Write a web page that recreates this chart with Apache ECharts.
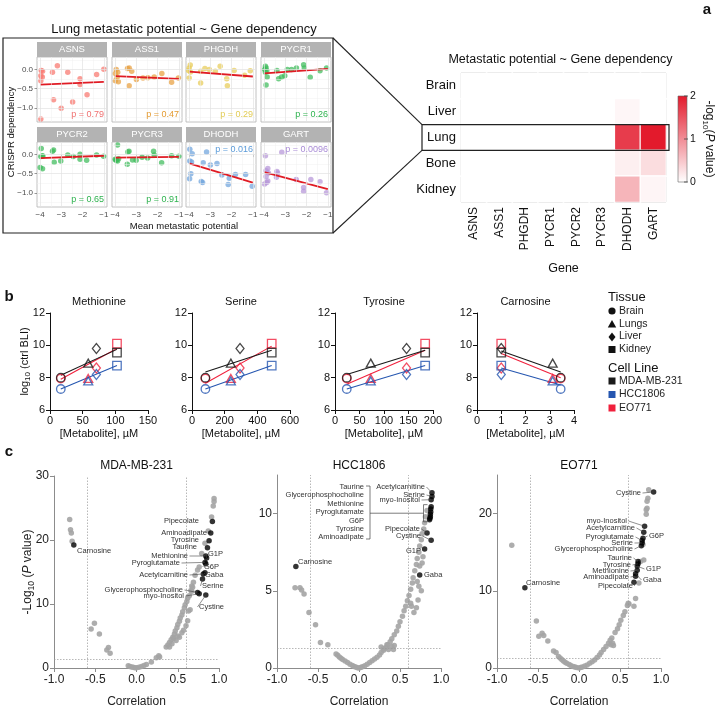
<!DOCTYPE html>
<html><head><meta charset="utf-8">
<script src="https://cdn.jsdelivr.net/npm/echarts@6/dist/echarts.min.js"></script>
<style>html,body{margin:0;padding:0;background:#fff}#c{width:720px;height:706px}</style>
</head><body><div id="c"></div>
<script>
const FONT = '"Liberation Sans", Arial, Helvetica, sans-serif';
const minus = s => String(s).replace('-', '\u2212');

// ---------------- Panel a: facets ----------------
const facetGenes = ['ASNS','ASS1','PHGDH','PYCR1','PYCR2','PYCR3','DHODH','GART'];
const ptsASNS = [[-3.95,-0.02],[-3.89,-0.04],[-3.97,-0.16],[-3.9,-0.19],[-3.97,-0.29],[-3.19,0.1],[-3.42,-0.07],[-2.7,-0.07],[-2.12,-0.24],[-2.12,-0.39],[-1.34,-0.13],[-1.0,0.01],[-3.37,-0.79],[-2.47,-0.85],[-1.79,-0.66],[-3.01,-1.01],[-3.97,-1.29]];
const ptsASS1 = [[-3.95,0.0],[-3.88,-0.07],[-3.99,-0.1],[-3.91,-0.2],[-3.99,-0.29],[-3.85,-0.32],[-3.42,0.03],[-3.34,0.04],[-3.22,-0.04],[-3.0,-0.26],[-2.69,-0.22],[-2.46,-0.21],[-2.16,-0.19],[-1.8,-0.1],[-1.34,-0.33],[-1.02,-0.22],[-3.34,-0.42]];
const ptsPHGDH = [[-3.95,0.12],[-4.0,0.04],[-4.03,-0.02],[-3.94,-0.06],[-4.0,-0.22],[-3.46,-0.35],[-3.46,-0.04],[-3.26,0.03],[-3.05,0.0],[-2.77,-0.04],[-2.54,0.09],[-2.23,-0.24],[-2.2,-0.42],[-1.88,-0.02],[-1.39,-0.15],[-1.12,-0.03]];
const ptsPYCR1 = [[-3.94,0.09],[-3.91,0.04],[-3.98,0.0],[-3.88,-0.03],[-3.94,-0.07],[-3.86,-0.19],[-3.91,-0.4],[-3.4,-0.02],[-3.32,-0.24],[-3.18,-0.19],[-3.03,-0.16],[-2.91,0.0],[-2.71,0.0],[-2.48,0.04],[-2.14,0.13],[-2.11,0.04],[-1.83,-0.2],[-1.37,-0.03],[-1.06,0.04]];
const ptsPYCR2 = [[-3.95,0.16],[-3.89,-0.03],[-3.97,-0.05],[-3.88,-0.04],[-4.0,-0.34],[-3.89,-0.37],[-3.42,0.09],[-3.37,0.12],[-3.34,-0.2],[-3.03,-0.17],[-2.7,-0.01],[-2.44,-0.05],[-2.12,0.01],[-2.12,-0.12],[-1.81,-0.15],[-1.34,-0.01],[-1.01,-0.04]];
const ptsPYCR3 = [[-3.89,0.25],[-4.0,-0.12],[-3.94,-0.15],[-3.89,-0.17],[-3.84,-0.11],[-3.97,-0.14],[-3.35,0.09],[-3.4,0.07],[-3.43,-0.25],[-3.18,-0.14],[-3.01,-0.15],[-2.73,-0.07],[-2.47,-0.09],[-2.19,0.09],[-2.16,-0.01],[-1.81,-0.21],[-1.34,-0.03],[-1.0,-0.04]];
const ptsDHODH = [[-3.97,0.14],[-3.86,0.02],[-3.97,-0.17],[-3.89,-0.19],[-3.92,-0.5],[-3.98,-0.63],[-3.18,0.07],[-3.34,-0.21],[-3.0,-0.27],[-2.69,-0.23],[-3.43,-0.7],[-3.37,-0.73],[-2.46,-0.53],[-2.11,-0.62],[-2.16,-0.78],[-1.82,-0.52],[-1.34,-0.52],[-1.03,-0.83]];
const ptsGART = [[-3.94,-0.03],[-3.83,-0.36],[-3.91,-0.42],[-3.8,-0.48],[-3.91,-0.57],[-3.83,-0.69],[-3.98,-0.77],[-3.88,-0.73],[-3.4,-0.44],[-3.37,-0.48],[-3.17,0.06],[-3.42,-0.59],[-2.49,-0.65],[-2.14,-0.86],[-2.14,-0.96],[-1.8,-0.65],[-1.37,-0.71],[-1.06,-1.0]];
const facetPoints = [ptsASNS, ptsASS1, ptsPHGDH, ptsPYCR1, ptsPYCR2, ptsPYCR3, ptsDHODH, ptsGART];
const fitX = [-4, -1];
const fitStartY = [-0.39, -0.17, -0.05, -0.10, -0.09, -0.08, -0.23, -0.46];
const fitEndY = [-0.32, -0.24, -0.18, 0.02, -0.03, -0.06, -0.73, -0.90];
const facetPText = ['p = 0.79','p = 0.47','p = 0.29','p = 0.26','p = 0.65','p = 0.91','p = 0.016','p = 0.0096'];

// ---------------- Panel a: heatmap ----------------
const heatTissues = ['Brain','Liver','Lung','Bone','Kidney'];
const heatGenes = ['ASNS','ASS1','PHGDH','PYCR1','PYCR2','PYCR3','DHODH','GART'];
const heatBrain  = [0,0,0,0,0,0,0,0];
const heatLiver  = [0,0,0,0,0,0,0.08,0];
const heatLung   = [0,0,0,0,0,0,1.7,2.0];
const heatBone   = [0,0,0,0,0,0,0.14,0.3];
const heatKidney = [0,0,0,0,0,0,0.65,0.09];

// ---------------- Panel b ----------------
const metabolites = ['Methionine','Serine','Tyrosine','Carnosine'];
const tissueNames = ['Brain','Lungs','Liver','Kidney'];
const cellLines = ['MDA-MB-231','HCC1806','EO771'];
const concMethionine = [16.5, 58.5, 71, 102.5];
const concSerine = [82, 238, 294, 488];
const concTyrosine = [24, 73, 146, 184];
const concCarnosine = [3.45, 3.12, 1.0, 1.0];
const bliMDA = [8.0, 8.9, 9.8, 9.55];
const bliHCC = [7.3, 7.8, 8.2, 8.75];
const bliEO  = [7.95, 7.95, 8.6, 10.1];
// fitted line: value at lowest and highest concentration, per metabolite
const fitMDA = [[8.15, 9.75], [8.35, 9.7], [8.2, 9.7], [9.65, 8.35]];
const fitHCC = [[7.3, 8.75], [7.3, 8.75], [7.3, 8.75], [8.6, 7.55]];
const fitEO  = [[7.9, 9.8], [7.65, 9.95], [7.6, 9.7], [9.5, 8.0]];
const xMaxB = [150, 600, 200, 4];
const xStepB = [50, 200, 50, 1];

// ---------------- Panel c ----------------
const mdaGray = [[-0.81,23.2],[-0.80,21.6],[-0.79,21.1],[-0.78,19.8],[-0.55,6.1],[-0.51,7.0],[-0.45,5.3],[-0.36,2.8],[-0.34,3.2],[-0.32,2.3],
[-0.10,0.35],[-0.08,0.25],[-0.06,0.15],[-0.04,0.1],[-0.02,0.05],[0.0,0.02],[0.03,0.1],[0.06,0.25],[0.09,0.4],[0.12,0.55],[0.18,0.95],[0.24,1.6],[0.27,1.9],[0.28,1.7],
[0.36,3.3],[0.38,3.6],[0.40,4.0],[0.42,4.4],[0.44,4.8],[0.46,5.3],[0.47,5.8],[0.49,6.3],[0.50,6.8],[0.52,7.3],[0.53,7.8],[0.55,8.3],[0.56,8.8],[0.58,9.4],[0.59,9.9],[0.61,10.4],[0.62,10.9],[0.64,11.3],[0.66,12.1],[0.67,12.8],[0.69,13.4],[0.71,14.5],[0.74,15.3],[0.76,15.8],[0.79,17.9],[0.83,19.5],[0.87,21.4],[0.91,23.6],[0.93,25.3],[0.94,26.0],[0.94,26.5],
[0.40,3.3],[0.43,3.8],[0.45,4.6],[0.48,4.3],[0.50,5.0],[0.52,4.8],[0.55,5.5],[0.57,5.9],[0.60,6.6],[0.62,7.4],[0.63,8.9],[0.65,9.1],[0.67,12.0],[0.68,12.6]];
const mdaNamed = [['Carnosine',-0.76,19.2],['Pipecolate',0.92,22.9],['Aminoadipate',0.90,21.1],['Tyrosine',0.88,19.9],['Taurine',0.86,18.8],['Methionine',0.84,17.5],['G1P',0.85,17.2],['Pyroglutamate',0.83,16.5],['G6P',0.84,16.3],['Acetylcarnitine',0.81,14.7],['Gaba',0.83,14.9],['Serine',0.80,13.9],['Glycerophosphocholine',0.74,11.8],['myo-Inositol',0.76,11.6],['Cystine',0.84,11.4]];
const hccGray = [[-0.78,5.2],[-0.72,5.2],[-0.70,5.05],[-0.67,4.8],[-0.61,3.6],[-0.53,2.8],[-0.47,1.65],[-0.38,1.5],
[-0.28,0.9],[-0.26,0.82],[-0.24,0.72],[-0.22,0.63],[-0.2,0.55],[-0.17,0.45],[-0.14,0.35],[-0.11,0.25],[-0.08,0.17],[-0.06,0.1],[-0.04,0.06],[-0.02,0.02],[0,0],[0.02,0.03],[0.04,0.08],[0.07,0.15],[0.1,0.25],[0.13,0.36],[0.16,0.47],[0.19,0.58],[0.22,0.7],[0.25,0.85],[0.27,1.0],[0.3,1.15],[0.33,1.32],[0.35,1.5],[0.38,1.7],[0.4,1.9],[0.43,2.15],[0.46,2.4],[0.48,2.7],[0.5,3.0],[0.53,3.35],[0.55,3.7],[0.57,4.0],[0.59,4.35],[0.61,4.7],[0.63,5.1],[0.65,5.5],[0.66,5.85],[0.68,6.3],[0.7,6.7],[0.71,7.1],[0.73,7.5],[0.74,7.9],[0.76,8.3],[0.77,8.7],[0.79,9.0],[0.80,9.4],[0.81,9.8],[0.83,10.2],
[0.27,1.36],[0.3,1.25],[0.34,1.5],[0.36,1.2],[0.4,1.4],[0.43,1.45],[0.42,1.2],[0.63,4.2],[0.64,4.0],[0.67,3.6],[0.70,3.9],[0.72,4.4],[0.76,5.0],[0.73,5.3],[0.71,5.6],[0.74,6.6],[0.77,6.8],[0.78,7.2]];
const hccNamed = [['Carnosine',-0.77,6.57],['Acetylcarnitine',0.89,11.35],['Serine',0.89,11.1],['myo-Inositol',0.88,10.9],['Taurine',0.88,10.45],['Glycerophosphocholine',0.875,10.3],['Methionine',0.875,10.1],['Pyroglutamate',0.87,9.95],['G6P',0.87,9.8],['Tyrosine',0.865,9.7],['Aminoadipate',0.86,9.6],['Pipecolate',0.83,8.75],['Cystine',0.88,8.27],['G1P',0.80,7.71],['Gaba',0.74,6.03]];
const eoGray = [[-0.82,15.9],[-0.52,6.1],[-0.49,4.1],[-0.45,4.5],[-0.43,4.2],[-0.38,3.5],[-0.31,2.2],[-0.28,2.0],[-0.25,1.5],[-0.23,1.3],[-0.21,1.1],[-0.19,0.9],[-0.17,0.75],[-0.15,0.6],[-0.12,0.45],[-0.1,0.33],[-0.07,0.2],[-0.05,0.12],[-0.03,0.06],[0,0],[0.02,0.05],[0.04,0.12],[0.07,0.25],[0.1,0.4],[0.13,0.6],[0.16,0.8],[0.19,1.05],[0.22,1.35],[0.25,1.7],[0.27,2.0],[0.3,2.4],[0.33,2.8],[0.36,3.2],[0.38,3.6],[0.4,3.9],[0.39,3.0],[0.41,3.2],[0.42,2.9],[0.44,4.6],[0.47,5.1],[0.49,5.6],[0.51,6.2],[0.54,6.8],[0.56,7.3],[0.59,8.1],[0.60,8.4],[0.61,8.3],[0.67,8.0],[0.69,9.0],[0.73,11.0],[0.79,14.0],[0.82,19.9],[0.82,20.5],[0.83,20.7],[0.83,21.6],[0.84,22.0],[0.85,23.1],[0.78,16.0],[0.75,13.8]];
const eoNamed = [['Carnosine',-0.66,10.4],['Cystine',0.91,22.8],['myo-Inositol',0.80,18.36],['Acetylcarnitine',0.79,17.6],['G6P',0.78,16.8],['Pyroglutamate',0.77,16.5],['Serine',0.77,16.2],['Glycerophosphocholine',0.76,15.85],['Taurine',0.72,13.8],['Tyrosine',0.72,13.5],['G1P',0.71,13.2],['Methionine',0.71,12.66],['Gaba',0.69,12.2],['Aminoadipate',0.69,11.9],['Pipecolate',0.67,11.1]];

// ================= layout & style (not data) =================
const facetColors = ['#F8766D','#E8A040','#E8CC58','#3DBB5A','#3DBB5A','#3DBB5A','#6FA3DC','#B595D8'];
const facetTextColors = ['#F07070','#E39A30','#E2CC55','#2EB34F','#2EB34F','#2EB34F','#5B9BD9','#A98BD6'];
const facetPTop = [false,false,false,false,false,false,true,true];
const FCOL = [37,112,186,261], FW = 70, FROW = [57,142], FH = 65;
const HEAT = {left:461, top:73, width:205, height:129};
const BLEFT = [50,192,335,477], BW = [98,98,98,97], BTOP = 313, BH = 97;
const CGRID = [{left:54, top:476, width:165, height:192},{left:277, top:475, width:164, height:193},{left:497, top:475, width:164, height:193}];
const CYMAX = [30, 12.5, 25], CYTICKS = [[0,10,20,30],[0,5,10],[0,10,20]];
const CTITLES = ['MDA-MB-231','HCC1806','EO771'];
const cellColors = ['#1a1a1a','#2556b0','#f0203c'];
const tissueSymbols = ['circle','triangle','diamond','rect'];

const grids=[], xAxes=[], yAxes=[], series=[], G=[];
const addGrid = g => { grids.push(Object.assign({outerBoundsMode:'none', containLabel:false}, g)); return grids.length-1; };
const txt = (x,y,text,o={}) => ({type:'text', x, y, z:60, rotation:o.rot||0,
  style:Object.assign({text, fontFamily:FONT, fontSize:o.size||10, fill:o.color||'#111', align:o.align||'center', verticalAlign:o.va||'middle', textAlign:o.align||'center', textVerticalAlign:o.va||'middle', fontWeight:o.weight||'normal'}, o.rich?{rich:o.rich}:{})});

// ---- facets
const FXmaj=[-4,-3,-2,-1], FXmin=[-3.5,-2.5,-1.5], FYmaj=[-1,-0.5,0], FYmin=[-1.25,-0.75,-0.25,0.25];
facetGenes.forEach((g,i)=>{
  const c=i%4, r=(i/4)|0;
  const gi = addGrid({left:FCOL[c], top:FROW[r], width:FW, height:FH, show:true, borderColor:'#b3b3b3', borderWidth:0.8, backgroundColor:'#fff'});
  xAxes.push({gridIndex:gi, type:'value', min:-4.15, max:-0.85, axisLine:{show:false},
    axisTick:{show:r===1, customValues:FXmaj, length:2.5, lineStyle:{color:'#555',width:0.6}},
    axisLabel:{show:r===1, customValues:FXmaj, fontSize:8, color:'#4d4d4d', margin:4, fontFamily:FONT, formatter:v=>minus(v)},
    splitLine:{show:false}});
  yAxes.push({gridIndex:gi, type:'value', min:-1.37, max:0.33, axisLine:{show:false},
    axisTick:{show:c===0, customValues:FYmaj, length:2.5, lineStyle:{color:'#555',width:0.6}},
    axisLabel:{show:c===0, customValues:FYmaj, fontSize:8, color:'#4d4d4d', margin:4, fontFamily:FONT, formatter:v=>minus(Number(v).toFixed(1))},
    splitLine:{show:false}});
  const ml = [];
  FXmin.forEach(v=>ml.push({xAxis:v, lineStyle:{color:'#f1f1f1',width:0.5,type:'solid'}}));
  FYmin.forEach(v=>ml.push({yAxis:v, lineStyle:{color:'#f1f1f1',width:0.5,type:'solid'}}));
  FXmaj.forEach(v=>ml.push({xAxis:v, lineStyle:{color:'#e2e2e2',width:0.7,type:'solid'}}));
  FYmaj.forEach(v=>ml.push({yAxis:v, lineStyle:{color:'#e2e2e2',width:0.7,type:'solid'}}));
  series.push({type:'scatter', xAxisIndex:gi, yAxisIndex:gi, data:[], silent:true, z:1,
    markLine:{silent:true, symbol:['none','none'], label:{show:false}, animation:false, data:ml}});
  series.push({type:'scatter', xAxisIndex:gi, yAxisIndex:gi, z:3, symbolSize:5.5, silent:true,
    itemStyle:{color:facetColors[i], opacity:0.72}, data:facetPoints[i]});
  series.push({type:'line', xAxisIndex:gi, yAxisIndex:gi, z:4, showSymbol:false, silent:true,
    lineStyle:{color:'#e01b24', width:1.8}, data:[[fitX[0],fitStartY[i]],[fitX[1],fitEndY[i]]]});
  G.push({type:'rect', shape:{x:FCOL[c], y:FROW[r]-15, width:FW, height:15}, style:{fill:'#b3b3b3'}, z:55});
  G.push(txt(FCOL[c]+FW/2, FROW[r]-7.3, g, {size:9.5, color:'#fff'}));
  const py = facetPTop[i] ? FROW[r]+8 : FROW[r]+FH-7.5;
  G.push(txt(FCOL[c]+FW-3, py, facetPText[i], {size:9, color:facetTextColors[i], align:'right'}));
});
G.push(txt(184, 29, 'Lung metastatic potential ~ Gene dependency', {size:13}));
G.push(txt(11, 132, 'CRISPR dependency', {size:9.5, rot:Math.PI/2}));
G.push(txt(184, 226, 'Mean metastatic potential', {size:9.5}));
G.push({type:'rect', shape:{x:3, y:38, width:330, height:195}, style:{fill:null, stroke:'#222', lineWidth:1.2}, z:56});

// ---- heatmap
const hgi = addGrid(Object.assign({show:true, borderColor:'#333', borderWidth:1}, HEAT));
xAxes.push({gridIndex:hgi, type:'category', data:heatGenes, axisLine:{show:false}, axisTick:{show:false},
  axisLabel:{rotate:90, fontSize:12, color:'#111', margin:5, fontFamily:FONT}, splitLine:{show:false},
  name:'Gene', nameLocation:'middle', nameGap:60, nameTextStyle:{fontSize:12.5, color:'#111', fontFamily:FONT}});
yAxes.push({gridIndex:hgi, type:'category', data:heatTissues, inverse:true, axisLine:{show:false}, axisTick:{show:false},
  axisLabel:{fontSize:13, color:'#111', margin:5, fontFamily:FONT}, splitLine:{show:false}});
const heatRows = [heatBrain, heatLiver, heatLung, heatBone, heatKidney];
const heatData = [];
heatRows.forEach((row,ri)=>row.forEach((v,ci)=>heatData.push([ci,ri,v])));
const heatSeriesIndex = series.length;
series.push({type:'heatmap', xAxisIndex:hgi, yAxisIndex:hgi, data:heatData, silent:true, z:2,
  itemStyle:{borderColor:'#fff', borderWidth:1.2}});
G.push(txt(HEAT.left+HEAT.width/2-3, 60, 'Metastatic potential ~ Gene dependency', {size:12.5}));
const rowH = HEAT.height/5;
const lungTop = HEAT.top + 2*rowH, lungBot = HEAT.top + 3*rowH;
G.push({type:'rect', shape:{x:422, y:lungTop, width:HEAT.left+HEAT.width+3-422, height:rowH}, style:{fill:null, stroke:'#222', lineWidth:1.2}, z:57});
G.push({type:'line', shape:{x1:333, y1:38, x2:422, y2:lungTop}, style:{stroke:'#222', lineWidth:1.1}, z:57});
G.push({type:'line', shape:{x1:333, y1:233, x2:422, y2:lungBot}, style:{stroke:'#222', lineWidth:1.1}, z:57});
G.push({type:'rect', shape:{x:678, y:96, width:9, height:86}, z:57,
  style:{stroke:'#666', lineWidth:0.6, fill:{type:'linear', x:0, y:0, x2:0, y2:1, colorStops:[{offset:0,color:'#e31a2c'},{offset:1,color:'#ffffff'}]}}});
[['2',96],['1',139],['0',182]].forEach(([t,y])=>{
  G.push({type:'line', shape:{x1:684, y1:y, x2:688, y2:y}, style:{stroke:'#444', lineWidth:0.8}, z:58});
  G.push(txt(690, y, t, {size:10.5, align:'left'}));
});
G.push(txt(709, 139, '-log{s|10}({i|P} value)', {size:12, rot:-Math.PI/2,
  rich:{s:{fontSize:8, fontFamily:FONT, padding:[7,0,0,0]}, i:{fontSize:12, fontStyle:'italic', fontFamily:FONT}}}));
G.push(txt(707, 10, 'a', {size:15, weight:'bold'}));

// ---- panel b
const concs = [concMethionine, concSerine, concTyrosine, concCarnosine];
const blis = [bliMDA, bliHCC, bliEO];
const fits = [fitMDA, fitHCC, fitEO];
metabolites.forEach((m,k)=>{
  const gi = addGrid({left:BLEFT[k], top:BTOP, width:BW[k], height:BH});
  xAxes.push({gridIndex:gi, type:'value', min:0, max:xMaxB[k], interval:xStepB[k],
    axisLine:{show:true, onZero:false, lineStyle:{color:'#111', width:1}}, axisTick:{show:true, length:4, lineStyle:{color:'#111'}},
    axisLabel:{fontSize:11, color:'#111', margin:5, fontFamily:FONT}, splitLine:{show:false},
    name:'[Metabolite], \u00b5M', nameLocation:'middle', nameGap:18, nameTextStyle:{fontSize:11, color:'#111', fontFamily:FONT}});
  yAxes.push(Object.assign({gridIndex:gi, type:'value', min:6, max:12, interval:2,
    axisLine:{show:true, onZero:false, lineStyle:{color:'#111', width:1}}, axisTick:{show:true, length:4, lineStyle:{color:'#111'}},
    axisLabel:{fontSize:11, color:'#111', margin:5, fontFamily:FONT}, splitLine:{show:false}},
    k===0 ? {name:'{n|log}{s|10}{n| (ctrl BLI)}', nameLocation:'middle', nameGap:18, nameMoveOverlap:false,
      nameTextStyle:{fontFamily:FONT, rich:{n:{fontSize:11, color:'#111', fontFamily:FONT}, s:{fontSize:8, color:'#111', fontFamily:FONT, padding:[6,0,0,0]}}}} : {}));
  const conc = concs[k];
  const lo = Math.min(...conc), hi = Math.max(...conc);
  [2,0,1].forEach(cl=>{
    series.push({type:'line', xAxisIndex:gi, yAxisIndex:gi, z:3, showSymbol:false, silent:true,
      lineStyle:{color:cellColors[cl], width:1.1}, data:[[lo, fits[cl][k][0]],[hi, fits[cl][k][1]]]});
  });
  [2,1,0].forEach(cl=>{
    series.push({type:'scatter', xAxisIndex:gi, yAxisIndex:gi, z:4, silent:true,
      itemStyle:{color:'rgba(255,255,255,0)', borderColor:cellColors[cl], borderWidth:1.3},
      data: tissueNames.map((t,ti)=>({value:[conc[ti], blis[cl][ti]], symbol:tissueSymbols[ti], symbolSize: ti===2?[8,10]:(ti===1?[9,8]:8.5)}))});
  });
  G.push(txt(BLEFT[k]+BW[k]/2, 302, m, {size:11}));
});
G.push(txt(9, 297, 'b', {size:15, weight:'bold'}));
G.push(txt(608, 297, 'Tissue', {size:13, align:'left'}));
G.push({type:'circle', shape:{cx:612, cy:311, r:3.6}, style:{fill:'#111'}, z:60});
G.push({type:'polygon', shape:{points:[[607.8,327.5],[616.2,327.5],[612,320]]}, style:{fill:'#111'}, z:60});
G.push({type:'polygon', shape:{points:[[612,332.5],[615.5,337],[612,341.5],[608.5,337]]}, style:{fill:'#111'}, z:60});
G.push({type:'rect', shape:{x:608.5, y:346, width:7, height:7}, style:{fill:'#111'}, z:60});
tissueNames.forEach((t,i)=>G.push(txt(619, 311+i*12.8, t, {size:10.5, align:'left', color:'#222'})));
G.push(txt(608, 368, 'Cell Line', {size:13, align:'left'}));
cellLines.forEach((t,i)=>{
  const y = 381 + i*13.5;
  G.push({type:'rect', shape:{x:608.5, y:y-3.5, width:7, height:7}, style:{fill:cellColors[i]}, z:60});
  G.push(txt(619, y, t, {size:10.5, align:'left', color:'#222'}));
});

// ---- panel c
const grays = [mdaGray, hccGray, eoGray];
const nameds = [mdaNamed, hccNamed, eoNamed];
const cGridIdx = [];
CGRID.forEach((gd,k)=>{
  const gi = addGrid(gd); cGridIdx.push(gi);
  xAxes.push({gridIndex:gi, type:'value', min:-1, max:1, interval:0.5,
    axisLine:{show:true, onZero:false, lineStyle:{color:'#8c8c8c', width:1}}, axisTick:{show:true, length:4, lineStyle:{color:'#8c8c8c'}},
    axisLabel:{fontSize:12, color:'#222', margin:6, fontFamily:FONT, formatter:v=>Number(v).toFixed(1)}, splitLine:{show:false},
    name:'Correlation', nameLocation:'middle', nameGap:28, nameMoveOverlap:false, nameTextStyle:{fontSize:12, color:'#222', fontFamily:FONT}});
  yAxes.push(Object.assign({gridIndex:gi, type:'value', min:0, max:CYMAX[k],
    axisLine:{show:true, onZero:false, lineStyle:{color:'#8c8c8c', width:1}},
    axisTick:{show:true, length:4, customValues:CYTICKS[k], lineStyle:{color:'#8c8c8c'}},
    axisLabel:{fontSize:12, color:'#222', margin:5, customValues:CYTICKS[k], fontFamily:FONT}, splitLine:{show:false}},
    k===0 ? {name:'{n|-Log}{s|10}{n| (}{i|P}{n| value)}', nameLocation:'middle', nameGap:18, nameMoveOverlap:false,
      nameTextStyle:{fontFamily:FONT, rich:{n:{fontSize:12, color:'#222', fontFamily:FONT}, i:{fontSize:12, color:'#222', fontStyle:'italic', fontFamily:FONT}, s:{fontSize:8.5, color:'#222', fontFamily:FONT, padding:[7,0,0,0]}}}} : {}));
  series.push({type:'scatter', xAxisIndex:gi, yAxisIndex:gi, z:3, symbolSize:5.5, silent:true,
    itemStyle:{color:'#a4a4a4', opacity:0.9}, data:grays[k],
    markLine:{silent:true, symbol:['none','none'], label:{show:false}, animation:false,
      lineStyle:{color:'#9a9a9a', width:0.7, type:[1.5,1.5]},
      data:[{xAxis:-0.6},{xAxis:0.6},{yAxis:1.3}]}});
  series.push({type:'scatter', xAxisIndex:gi, yAxisIndex:gi, z:4, symbolSize:5.5, silent:true,
    itemStyle:{color:'#000'}, data:nameds[k].map(d=>[d[1],d[2]])});
  G.push(txt(gd.left+gd.width/2, 466, CTITLES[k], {size:12}));
});
G.push(txt(9, 452, 'c', {size:15, weight:'bold'}));

const labMDA = {Carnosine:[77,551,'left',0], Pipecolate:[199,521,'right',0], Aminoadipate:[207,533,'right',0], Tyrosine:[199,540,'right',0],
  Taurine:[197,547,'right',0], Methionine:[188,556,'right',1], G1P:[208,554,'left',1], Pyroglutamate:[180,563,'right',1], G6P:[204,567,'left',1],
  Acetylcarnitine:[188,575,'right',1], Gaba:[205,575,'left',1], Serine:[202,586,'left',1], Glycerophosphocholine:[183,590,'right',1],
  'myo-Inositol':[184,596,'right',1], Cystine:[199,607,'left',1]};
const labHCC = {Carnosine:[298,562,'left',0], Acetylcarnitine:[425,487,'right',1], Serine:[425,495,'right',1], 'myo-Inositol':[420,500,'right',1],
  Pipecolate:[420,529,'right',1], Cystine:[421,536,'right',1], G1P:[421,551,'right',0], Gaba:[424,575,'left',0]};
const hccGroup = ['Taurine','Glycerophosphocholine','Methionine','Pyroglutamate','G6P','Tyrosine','Aminoadipate'];
const labEO = {Carnosine:[526,583,'left',0], Cystine:[641,493,'right',1], 'myo-Inositol':[627,521,'right',1], Acetylcarnitine:[635,528,'right',1],
  G6P:[649,536,'left',1], Pyroglutamate:[634,537,'right',1], Serine:[633,543,'right',1], Glycerophosphocholine:[633,549,'right',1],
  Taurine:[632,558,'right',1], Tyrosine:[631,565,'right',1], G1P:[646,569,'left',1], Methionine:[629,571,'right',1],
  Aminoadipate:[629,577,'right',1], Gaba:[643,580,'left',1], Pipecolate:[633,586,'right',1]};
const labs = [labMDA, labHCC, labEO];

const chart = echarts.init(document.getElementById('c'));
chart.setOption({animation:false, textStyle:{fontFamily:FONT}, grid:grids, xAxis:xAxes, yAxis:yAxes, series,
  visualMap:[{type:'continuous', show:false, min:0, max:2, seriesIndex:heatSeriesIndex, dimension:2, inRange:{color:['#ffffff','#e31a2c']}}]});

nameds.forEach((named,k)=>{
  const gi = cGridIdx[k], L = labs[k];
  named.forEach(([name,x,y])=>{
    const a = L[name]; if(!a) return;
    const [px,py] = chart.convertToPixel({gridIndex:gi},[x,y]);
    G.push(txt(a[0], a[1], name, {size:7.5, align:a[2], color:'#333'}));
    if(a[3]){ const ex = a[2]==='right' ? a[0]+1.5 : a[0]-1.5;
      G.push({type:'line', shape:{x1:ex,y1:a[1],x2:px,y2:py}, style:{stroke:'#444', lineWidth:0.6}, z:59}); }
  });
});
hccGroup.forEach((n,i)=>G.push(txt(364, 487+i*8.4, n, {size:7.5, align:'right', color:'#333'})));
const gPts = hccNamed.filter(d=>hccGroup.includes(d[0])).map(d=>chart.convertToPixel({gridIndex:cGridIdx[1]},[d[1],d[2]]));
const gTop = Math.min(...gPts.map(p=>p[1])), gBot = Math.max(...gPts.map(p=>p[1])), gX = Math.min(...gPts.map(p=>p[0]));
G.push({type:'polyline', shape:{points:[[366,486],[370,486],[370,539],[366,539]]}, style:{stroke:'#444', lineWidth:0.7, fill:null}, z:59});
G.push({type:'line', shape:{x1:370, y1:(gTop+gBot)/2, x2:gX-6, y2:(gTop+gBot)/2}, style:{stroke:'#444', lineWidth:0.7}, z:59});
G.push({type:'polyline', shape:{points:[[gX-2,gTop-2],[gX-6,gTop-2],[gX-6,gBot+2],[gX-2,gBot+2]]}, style:{stroke:'#444', lineWidth:0.7, fill:null}, z:59});

chart.setOption({graphic:{elements:G}});
</script></body></html>
